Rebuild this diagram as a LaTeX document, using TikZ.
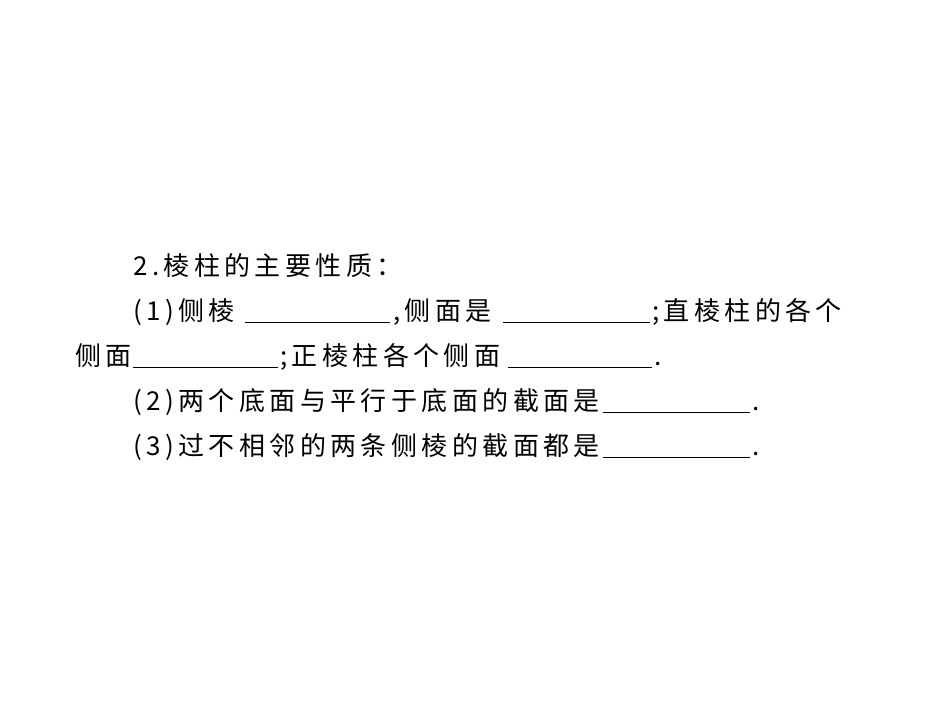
\documentclass[tikz,border=0pt]{standalone}
\usepackage{fontspec}
\newfontfamily\cjk[LetterSpace=17]{Noto Sans CJK SC}
\begin{document}
\begin{tikzpicture}[x=1pt,y=-1pt,
  txt/.style={anchor=base west,inner sep=0pt,font=\cjk\fontsize{26}{30}\selectfont},
  blank/.style={line width=0.8pt}]
\useasboundingbox (0,0) rectangle (950,713);
\node[txt] (l1) at (133,275) {2.棱柱的主要性质：};
\node[txt] (a1) at (133,320) {(1)侧棱};
\coordinate (u1a) at (245,322); \coordinate (u1b) at (390,322);
\draw[blank] (u1a) -- (u1b);
\node[txt] (a2) at (393,320) {,侧面是};
\coordinate (u2a) at (503,322); \coordinate (u2b) at (650,322);
\draw[blank] (u2a) -- (u2b);
\node[txt] (a3) at (652,320) {;直棱柱的各个};
\node[txt] (b1) at (75,365) {侧面};
\coordinate (u3a) at (133,367); \coordinate (u3b) at (278,367);
\draw[blank] (u3a) -- (u3b);
\node[txt] (b2) at (280,365) {;正棱柱各个侧面};
\coordinate (u4a) at (508,367); \coordinate (u4b) at (652,367);
\draw[blank] (u4a) -- (u4b);
\node[txt] (b3) at (654,365) {.};
\node[txt] (c1) at (133,410) {(2)两个底面与平行于底面的截面是};
\coordinate (u5a) at (603,412); \coordinate (u5b) at (750,412);
\draw[blank] (u5a) -- (u5b);
\node[txt] (c2) at (752,410) {.};
\node[txt] (d1) at (133,455) {(3)过不相邻的两条侧棱的截面都是};
\coordinate (u6a) at (603,457); \coordinate (u6b) at (750,457);
\draw[blank] (u6a) -- (u6b);
\node[txt] (d2) at (752,455) {.};
\end{tikzpicture}
\end{document}
